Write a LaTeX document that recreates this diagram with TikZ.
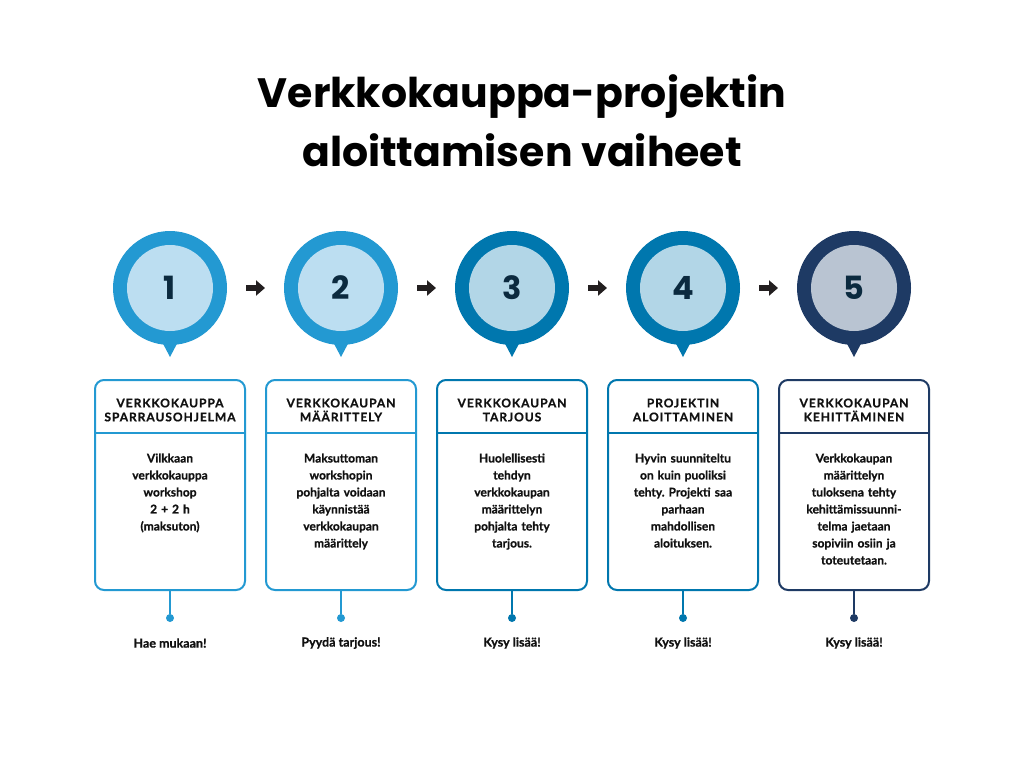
\documentclass[tikz,border=0pt]{standalone}
\usepackage{fontspec}
\setmainfont{Lato}
\newfontfamily\titlefont{Poppins}
\usetikzlibrary{arrows.meta,calc}

\definecolor{lightpin}{HTML}{2399D2}
\definecolor{lightring}{HTML}{BCDEF1}
\definecolor{midpin}{HTML}{0077AE}
\definecolor{midring}{HTML}{B2D6E7}
\definecolor{darkpin}{HTML}{1E3A64}
\definecolor{darkring}{HTML}{B9C4D2}
\definecolor{numcol}{HTML}{0B2A3F}
\definecolor{arrowcol}{HTML}{231F20}
\definecolor{inkcol}{HTML}{111111}

\tikzset{
  ring/.style={circle,minimum size=86pt,inner sep=0pt,outer sep=0pt,text=numcol,
    font=\titlefont\bfseries\fontsize{32}{32}\selectfont},
  steparrow/.style={arrowcol,line width=6pt,shorten <=33pt,shorten >=33pt,
    -{Triangle[length=9pt,width=15pt]}},
  stepbox/.style={draw=#1,line width=2pt,rounded corners=9pt,minimum width=150pt,
    minimum height=210pt,inner sep=0pt},
  headtext/.style={align=center,text=inkcol,
    font=\bfseries\fontsize{12}{14}\selectfont\addfontfeatures{LetterSpace=8,FakeBold=0.8}},
  bodytext/.style={anchor=north,align=center,text width=146pt,text=inkcol,
    font=\bfseries\fontsize{12}{17}\selectfont\addfontfeatures{FakeBold=0.8}},
  stem/.style={draw=#1,line width=2pt},
  stemdot/.style={circle,fill=#1,minimum size=8pt,inner sep=0pt},
  calltext/.style={text=inkcol,font=\bfseries\fontsize{12.5}{14}\selectfont\addfontfeatures{FakeBold=0.8}}
}

\begin{document}
\frenchspacing
\begin{tikzpicture}[x=1pt,y=-1pt]
    \useasboundingbox[fill=white] (0,0) rectangle (1024,768);

    % title
    \node[align=center,font=\titlefont\bfseries\fontsize{41}{59}\selectfont] (title) at (522,121)
        {Verkkokauppa-projektin\\aloittamisen vaiheet};

    % pins
    \fill[lightpin] (170,288) circle[radius=57pt];
    \fill[lightpin] (160,338) -- (170,357) -- (180,338) -- cycle;
    \node[ring,fill=lightring] (p1) at (170,288) {1};
    \fill[lightpin] (341,288) circle[radius=57pt];
    \fill[lightpin] (331,338) -- (341,357) -- (351,338) -- cycle;
    \node[ring,fill=lightring] (p2) at (341,288) {2};
    \fill[midpin] (512,288) circle[radius=57pt];
    \fill[midpin] (502,338) -- (512,357) -- (522,338) -- cycle;
    \node[ring,fill=midring] (p3) at (512,288) {3};
    \fill[midpin] (683,288) circle[radius=57pt];
    \fill[midpin] (673,338) -- (683,357) -- (693,338) -- cycle;
    \node[ring,fill=midring] (p4) at (683,288) {4};
    \fill[darkpin] (854,288) circle[radius=57pt];
    \fill[darkpin] (844,338) -- (854,357) -- (864,338) -- cycle;
    \node[ring,fill=darkring] (p5) at (854,288) {5};

    \draw[steparrow] (p1) -- (p2);
    \draw[steparrow] (p2) -- (p3);
    \draw[steparrow] (p3) -- (p4);
    \draw[steparrow] (p4) -- (p5);

    % boxes
    \node[stepbox=lightpin] (b1) at (170,485) {};
    \draw[stem=lightpin] ([yshift=-54pt]b1.north west) -- ([yshift=-54pt]b1.north east);
    \node[headtext] (h1) at (170,410) {VERKKOKAUPPA\\SPARRAUSOHJELMA};
    \node[bodytext] (t1) at (170,450) {Vilkkaan\\verkkokauppa\\workshop\\2 + 2 h\\(maksuton)};

    \node[stepbox=lightpin] (b2) at (341,485) {};
    \draw[stem=lightpin] ([yshift=-54pt]b2.north west) -- ([yshift=-54pt]b2.north east);
    \node[headtext] (h2) at (341,410) {VERKKOKAUPAN\\MÄÄRITTELY};
    \node[bodytext] (t2) at (341,450) {Maksuttoman\\workshopin\\pohjalta voidaan\\käynnistää\\verkkokaupan\\määrittely};

    \node[stepbox=midpin] (b3) at (512,485) {};
    \draw[stem=midpin] ([yshift=-54pt]b3.north west) -- ([yshift=-54pt]b3.north east);
    \node[headtext] (h3) at (512,410) {VERKKOKAUPAN\\TARJOUS};
    \node[bodytext] (t3) at (512,450) {Huolellisesti\\tehdyn\\verkkokaupan\\määrittelyn\\pohjalta tehty\\tarjous.};

    \node[stepbox=midpin] (b4) at (683,485) {};
    \draw[stem=midpin] ([yshift=-54pt]b4.north west) -- ([yshift=-54pt]b4.north east);
    \node[headtext] (h4) at (683,410) {PROJEKTIN\\ALOITTAMINEN};
    \node[bodytext] (t4) at (683,450) {Hyvin suunniteltu\\on kuin puoliksi\\tehty. Projekti saa\\parhaan\\mahdollisen\\aloituksen.};

    \node[stepbox=darkpin] (b5) at (854,485) {};
    \draw[stem=darkpin] ([yshift=-54pt]b5.north west) -- ([yshift=-54pt]b5.north east);
    \node[headtext] (h5) at (854,410) {VERKKOKAUPAN\\KEHITTÄMINEN};
    \node[bodytext] (t5) at (854,450) {Verkkokaupan\\määrittelyn\\tuloksena tehty\\kehittämissuunni-\\telma jaetaan\\sopiviin osiin ja\\toteutetaan.};

    % stems and calls
    \node[stemdot=lightpin] (d1) at (170,618) {};
    \node[stemdot=lightpin] (d2) at (341,618) {};
    \node[stemdot=midpin] (d3) at (512,618) {};
    \node[stemdot=midpin] (d4) at (683,618) {};
    \node[stemdot=darkpin] (d5) at (854,618) {};
    \draw[stem=lightpin] (b1.south) -- (d1);
    \draw[stem=lightpin] (b2.south) -- (d2);
    \draw[stem=midpin] (b3.south) -- (d3);
    \draw[stem=midpin] (b4.south) -- (d4);
    \draw[stem=darkpin] (b5.south) -- (d5);

    \node[calltext] (c1) at (170,643) {Hae mukaan!};
    \node[calltext] (c2) at (341,643) {Pyydä tarjous!};
    \node[calltext] (c3) at (512,643) {Kysy lisää!};
    \node[calltext] (c4) at (683,643) {Kysy lisää!};
    \node[calltext] (c5) at (854,643) {Kysy lisää!};
\end{tikzpicture}
\end{document}
